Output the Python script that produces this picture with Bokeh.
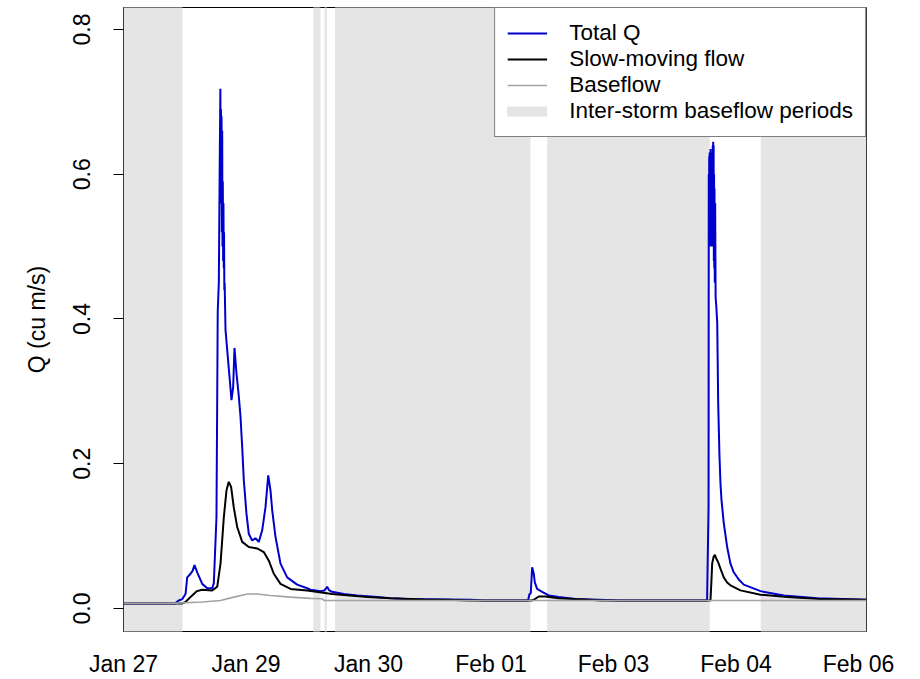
from bokeh.plotting import figure
from bokeh.models import Legend, LegendItem, FixedTicker, NumeralTickFormatter, Range1d
from bokeh.embed import file_html
from bokeh.resources import INLINE

# time axis: days since Jan 27 00:00 ; (time, Q in cu m/s)
total_points = [
    (0.500, 0.007), (1.200, 0.007), (1.252, 0.011), (1.300, 0.013), (1.344, 0.020), (1.367, 0.043),
    (1.412, 0.048), (1.440, 0.052), (1.466, 0.060), (1.503, 0.050), (1.571, 0.034), (1.639, 0.028),
    (1.707, 0.028), (1.729, 0.035), (1.765, 0.126), (1.775, 0.290), (1.782, 0.410), (1.797, 0.450),
    (1.808, 0.600), (1.818, 0.718), (1.822, 0.600), (1.826, 0.690), (1.830, 0.560), (1.834, 0.680),
    (1.838, 0.520), (1.843, 0.660), (1.847, 0.500), (1.851, 0.590), (1.856, 0.480), (1.860, 0.560),
    (1.864, 0.470), (1.868, 0.520), (1.872, 0.440), (1.876, 0.450), (1.888, 0.385), (1.911, 0.357),
    (1.946, 0.316), (1.969, 0.288), (1.992, 0.306), (2.010, 0.360), (2.037, 0.325), (2.069, 0.293),
    (2.092, 0.265), (2.115, 0.223), (2.137, 0.177), (2.173, 0.131), (2.205, 0.103), (2.251, 0.094),
    (2.296, 0.097), (2.341, 0.092), (2.387, 0.108), (2.432, 0.140), (2.469, 0.184), (2.500, 0.163),
    (2.523, 0.136), (2.568, 0.099), (2.636, 0.062), (2.727, 0.043), (2.863, 0.033), (2.999, 0.028),
    (3.044, 0.026), (3.180, 0.024), (3.235, 0.025), (3.271, 0.030), (3.300, 0.025), (3.339, 0.023),
    (3.497, 0.020), (3.680, 0.018), (3.952, 0.016), (4.133, 0.014), (4.360, 0.013), (4.904, 0.0125),
    (5.221, 0.012), (5.400, 0.011), (6.000, 0.011), (6.006, 0.012), (6.024, 0.020), (6.041, 0.021),
    (6.060, 0.057), (6.082, 0.048), (6.096, 0.036), (6.128, 0.027), (6.196, 0.023), (6.286, 0.018),
    (6.422, 0.016), (6.650, 0.013), (6.967, 0.012), (7.262, 0.011), (8.440, 0.011), (8.460, 0.140),
    (8.463, 0.600), (8.466, 0.540), (8.469, 0.625), (8.472, 0.520), (8.475, 0.630), (8.478, 0.500),
    (8.481, 0.610), (8.484, 0.540), (8.487, 0.635), (8.490, 0.500), (8.493, 0.620), (8.496, 0.520),
    (8.499, 0.600), (8.502, 0.560), (8.505, 0.630), (8.508, 0.500), (8.511, 0.620), (8.514, 0.520),
    (8.517, 0.640), (8.520, 0.500), (8.523, 0.645), (8.526, 0.520), (8.529, 0.640), (8.532, 0.480),
    (8.535, 0.600), (8.538, 0.470), (8.541, 0.580), (8.545, 0.450), (8.550, 0.560), (8.556, 0.430),
    (8.564, 0.420), (8.578, 0.395), (8.591, 0.284), (8.609, 0.210), (8.622, 0.173), (8.636, 0.150),
    (8.667, 0.118), (8.713, 0.085), (8.758, 0.062), (8.803, 0.050), (8.871, 0.040), (8.939, 0.033),
    (9.167, 0.024), (9.484, 0.018), (9.938, 0.014), (10.609, 0.012),
]

slow_points = [
    (0.500, 0.007), (1.300, 0.007), (1.344, 0.009), (1.412, 0.016), (1.500, 0.024), (1.571, 0.026),
    (1.707, 0.025), (1.775, 0.030), (1.820, 0.062), (1.865, 0.126), (1.901, 0.163), (1.932, 0.175),
    (1.964, 0.168), (2.000, 0.140), (2.046, 0.113), (2.115, 0.092), (2.205, 0.085), (2.318, 0.083),
    (2.409, 0.078), (2.477, 0.066), (2.545, 0.048), (2.636, 0.034), (2.772, 0.027), (2.999, 0.025),
    (3.339, 0.020), (3.816, 0.016), (4.133, 0.014), (4.582, 0.0125), (4.904, 0.012), (5.200, 0.011),
    (6.050, 0.011), (6.082, 0.012), (6.150, 0.0166), (6.241, 0.0166), (6.422, 0.014), (6.831, 0.012),
    (7.000, 0.011), (8.486, 0.011), (8.500, 0.040), (8.509, 0.062), (8.530, 0.072), (8.547, 0.074),
    (8.560, 0.070), (8.590, 0.064), (8.622, 0.055), (8.667, 0.043), (8.713, 0.036), (8.758, 0.032),
    (8.894, 0.025), (9.167, 0.019), (9.530, 0.016), (9.980, 0.013), (10.609, 0.012),
]

base_points = [
    (0.500, 0.007), (1.139, 0.007), (1.571, 0.009), (1.820, 0.011), (2.000, 0.0157), (2.186, 0.020),
    (2.318, 0.020), (2.500, 0.018), (2.772, 0.0157), (3.044, 0.014), (3.200, 0.0135), (3.230, 0.011),
    (8.500, 0.011), (10.609, 0.011),
]

total_t = [t for t, _ in total_points]
total_q = [q for _, q in total_points]
slow_t = [t for t, _ in slow_points]
slow_q = [q for _, q in slow_points]
base_t = [t for t, _ in base_points]
base_q = [q for _, q in base_points]

# inter-storm baseflow periods (days since Jan 27 00:00)
band_start = [0.500, 3.081, 3.235, 3.378, 6.264, 9.170]
band_end = [1.303, 3.180, 3.269, 6.037, 8.476, 10.609]

x_tick_pos = [0.5, 2.167, 3.833, 5.5, 7.167, 8.833, 10.5]
x_tick_labels = ["Jan 27", "Jan 29", "Jan 30", "Feb 01", "Feb 03", "Feb 04", "Feb 06"]
y_ticks = [0.0, 0.2, 0.4, 0.6, 0.8]
legend_labels = ["Total Q", "Slow-moving flow", "Baseflow", "Inter-storm baseflow periods"]

FONT = "Liberation Sans"

p = figure(width=920, height=679, output_backend="svg", toolbar_location=None,
           x_range=Range1d(0.5, 10.609), y_range=Range1d(-0.0318, 0.8304),
           min_border_left=123, min_border_right=54, min_border_top=7, min_border_bottom=48)
p.background_fill_color = "white"
p.border_fill_color = "white"
p.outline_line_color = "black"
p.outline_line_width = 1
p.grid.visible = False

p.quad(left=band_start, right=band_end, bottom=-1, top=2, fill_color="#e5e5e5", line_alpha=0)
r_total = p.line(total_t, total_q, line_color="#0000CD", line_width=2)
r_slow = p.line(slow_t, slow_q, line_color="black", line_width=2)
r_base = p.line(base_t, base_q, line_color="#a3a3a3", line_width=1.6)
r_band = p.line([float("nan")], [float("nan")], line_color="#e5e5e5", line_width=10, line_cap="round")

legend = Legend(items=[LegendItem(label=legend_labels[0], renderers=[r_total]),
                       LegendItem(label=legend_labels[1], renderers=[r_slow]),
                       LegendItem(label=legend_labels[2], renderers=[r_base]),
                       LegendItem(label=legend_labels[3], renderers=[r_band])],
                location="top_right", margin=0, padding=12, spacing=0,
                glyph_width=40, glyph_height=26, label_height=26, label_standoff=22,
                label_text_font=FONT, label_text_font_size="22.5px", label_text_color="black",
                border_line_color="black", border_line_width=1,
                background_fill_color="white", background_fill_alpha=1)
p.add_layout(legend)

xa = p.xaxis[0]
xa.ticker = FixedTicker(ticks=x_tick_pos, minor_ticks=[])
xa.major_label_overrides = {pos: lab for pos, lab in zip(x_tick_pos, x_tick_labels)}
xa.axis_line_color = None
xa.major_tick_line_color = None
xa.minor_tick_line_color = None
xa.major_label_standoff = 13
xa.major_label_text_font = FONT
xa.major_label_text_font_size = "23px"
xa.major_label_text_color = "black"

ya = p.yaxis[0]
ya.ticker = FixedTicker(ticks=y_ticks, minor_ticks=[])
ya.formatter = NumeralTickFormatter(format="0.0")
ya.major_label_orientation = "vertical"
ya.axis_line_color = None
ya.major_tick_line_color = "black"
ya.major_tick_out = 10
ya.major_tick_in = 0
ya.minor_tick_line_color = None
ya.major_label_standoff = 23
ya.major_label_text_font = FONT
ya.major_label_text_font_size = "23px"
ya.major_label_text_color = "black"
ya.axis_label = "Q (cu m/s)"
ya.axis_label_text_font = FONT
ya.axis_label_text_font_size = "23px"
ya.axis_label_text_font_style = "normal"
ya.axis_label_text_color = "black"
ya.axis_label_standoff = 21

open("out.html", "w").write(file_html(p, INLINE))
